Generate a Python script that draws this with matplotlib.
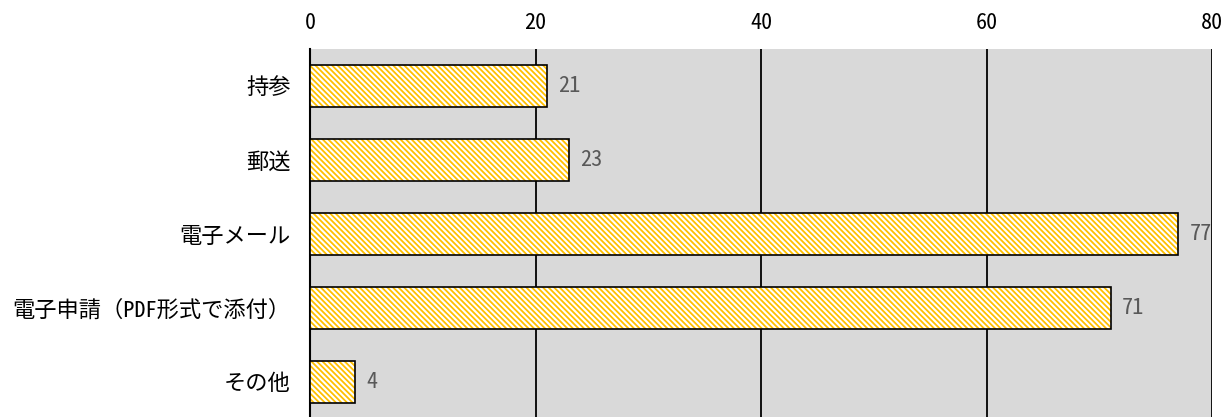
import matplotlib
matplotlib.use("Agg")
import matplotlib.pyplot as plt

plt.rcParams['font.family'] = ['Noto Sans Mono CJK JP', 'Noto Sans CJK JP', 'DejaVu Sans']
plt.rcParams['font.weight'] = 'normal'
plt.rcParams['hatch.linewidth'] = 1.3

categories = ["持参", "郵送", "電子メール", "電子申請（PDF形式で添付）", "その他"]
values = [21, 23, 77, 71, 4]
xticks = [0, 20, 40, 60, 80]

W, H = 1226, 417
fig = plt.figure(figsize=(W / 100, H / 100), dpi=100)
ax = fig.add_axes([310 / W, (H - 419) / H, (1212 - 310) / W, 370 / H])
ax.set_facecolor('#d9d9d9')

y = list(range(len(categories)))
ax.barh(y, values, height=0.57, color='white', edgecolor='#ffc000',
        hatch='\\\\\\\\\\\\', linewidth=0, zorder=3)
ax.barh(y, values, height=0.57, fill=False, edgecolor='black',
        linewidth=1.2, zorder=4)
for yi, v in zip(y, values):
    ax.text(v + 1.0, yi, str(v), va='center', ha='left', fontsize=16,
            color='#595959', zorder=5)

ax.set_xlim(0, 80)
ax.set_ylim(len(categories) - 0.5, -0.5)
ax.set_xticks(xticks)
ax.set_yticks(y)
ax.set_yticklabels(categories)
ax.xaxis.tick_top()
ax.tick_params(axis='x', length=0, labelsize=16, pad=11, colors='black')
ax.tick_params(axis='y', length=0, labelsize=16, pad=14)
ax.grid(axis='x', color='black', linewidth=1.3, zorder=1)
ax.set_axisbelow(True)
for s in ['top', 'bottom', 'right']:
    ax.spines[s].set_visible(False)
ax.spines['left'].set_color('black')
ax.spines['left'].set_linewidth(1.5)

fig.savefig('out.png', dpi=100)
